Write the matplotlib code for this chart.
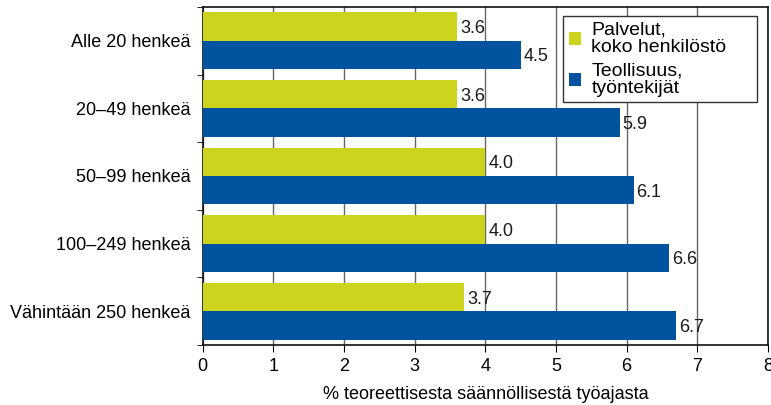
import matplotlib
matplotlib.use("Agg")
import matplotlib.pyplot as plt
import matplotlib.patches as mpatches
import numpy as np

categories = ["Alle 20 henkeä", "20–49 henkeä", "50–99 henkeä",
              "100–249 henkeä", "Vähintään 250 henkeä"]
palvelut = [3.6, 3.6, 4.0, 4.0, 3.7]
teollisuus = [4.5, 5.9, 6.1, 6.6, 6.7]
series_names = ["Palvelut,\nkoko henkilöstö", "Teollisuus,\ntyöntekijät"]
xticks = [0, 1, 2, 3, 4, 5, 6, 7, 8]

YELLOW = "#CCD41E"
BLUE = "#00539F"

plt.rcParams["font.family"] = ["Liberation Sans", "DejaVu Sans"]
plt.rcParams["font.size"] = 13

fig = plt.figure(figsize=(7.71, 4.05), dpi=100)
ax = fig.add_axes([0.263, 0.148, 0.733, 0.835])

n = len(categories)
y = np.arange(n)
h = 0.42
b1 = ax.barh(y - h / 2, palvelut, height=h, color=YELLOW, label=series_names[0], zorder=3)
b2 = ax.barh(y + h / 2, teollisuus, height=h, color=BLUE, label=series_names[1], zorder=3)

for bars, vals in ((b1, palvelut), (b2, teollisuus)):
    for bar, v in zip(bars, vals):
        ax.text(bar.get_width() + 0.04, bar.get_y() + bar.get_height() / 2 + 0.03,
                f"{v:.1f}", va="center", ha="left", fontsize=13, color="#1a1a1a", zorder=4)

ax.set_ylim(n - 0.5, -0.5)
ax.set_xlim(0, 8)
ax.set_xticks(xticks)
ax.set_yticks(y)
ax.set_yticklabels(categories)
ax.set_yticks(np.arange(n + 1) - 0.5, minor=True)
ax.tick_params(axis="y", which="major", length=0, pad=9)
ax.tick_params(axis="y", which="minor", length=4, direction="out")
ax.tick_params(axis="x", length=5, direction="out", pad=4)
ax.grid(axis="x", color="#666666", linewidth=1, zorder=0)

for s in ax.spines.values():
    s.set_linewidth(1.2)
    s.set_color("#111111")

ax.set_xlabel("% teoreettisesta säännöllisestä työajasta", fontsize=13, labelpad=8)

# legend box is wider than its content in the original, so frame drawn separately
frame = mpatches.Rectangle((0.637, 0.719), 0.344, 0.254, transform=ax.transAxes,
                           facecolor="white", edgecolor="#333333", linewidth=1.0, zorder=5)
ax.add_patch(frame)
leg = ax.legend(loc="upper left", bbox_to_anchor=(0.637, 0.973), borderaxespad=0,
                frameon=False, handlelength=0.62, handleheight=0.62, handletextpad=0.55,
                labelspacing=0.35, borderpad=0.3, fontsize=14)
for t in leg.get_texts():
    t.set_linespacing(1.0)
leg.set_zorder(6)

fig.savefig("out.png", dpi=100)
